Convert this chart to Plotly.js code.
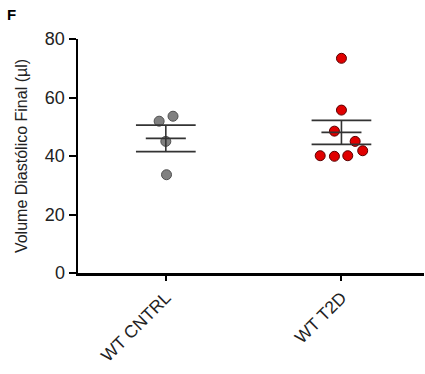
<!DOCTYPE html>
<html>
<head>
<meta charset="utf-8">
<script src="https://cdn.plot.ly/plotly-3.0.1.min.js"></script>
<style>html,body{margin:0;padding:0;background:#fff;}#chart{width:425px;height:374px;}</style>
</head>
<body>
<div id="chart"></div>
<script>
// Data
const categories = ["WT CNTRL", "WT T2D"];
const cntrlValues = [51.9, 53.6, 45.0, 33.6];
const t2dValues = [73.4, 55.7, 48.5, 45.0, 41.8, 40.1, 39.9, 40.1];
// horizontal scatter offsets of the dots within each group (category units)
const cntrlJitter = [-0.038, 0.041, 0, 0.004];
const t2dJitter = [0, 0, -0.04, 0.078, 0.121, -0.121, -0.04, 0.036];
const yTicks = [0, 20, 40, 60, 80];

function stats(v) {
  const n = v.length;
  const m = v.reduce((a, b) => a + b, 0) / n;
  const sd = Math.sqrt(v.reduce((a, b) => a + (b - m) * (b - m), 0) / (n - 1));
  return { mean: m, sem: sd / Math.sqrt(n) };
}

const groups = [
  { vals: cntrlValues, jit: cntrlJitter, color: "#808080", line: "#505050" },
  { vals: t2dValues, jit: t2dJitter, color: "#e00000", line: "#5a0000" }
];

const traces = [];
groups.forEach((g, i) => {
  traces.push({
    type: "scatter", mode: "markers",
    x: g.vals.map((_, k) => i + g.jit[k]),
    y: g.vals,
    marker: { size: 10, color: g.color, line: { color: g.line, width: 1 } },
    hoverinfo: "y", showlegend: false
  });
});

// mean and SEM lines
const lx = [], ly = [];
groups.forEach((g, i) => {
  const s = stats(g.vals);
  const mw = 0.114, sw = 0.17;
  lx.push(i - mw, i + mw, null); ly.push(s.mean, s.mean, null);
  lx.push(i - sw, i + sw, null); ly.push(s.mean + s.sem, s.mean + s.sem, null);
  lx.push(i - sw, i + sw, null); ly.push(s.mean - s.sem, s.mean - s.sem, null);
  lx.push(i, i, null); ly.push(s.mean - s.sem, s.mean + s.sem, null);
});
traces.push({
  type: "scatter", mode: "lines", x: lx, y: ly,
  line: { color: "#333333", width: 1.6 }, hoverinfo: "skip", showlegend: false
});

const font = "Liberation Sans, Arial, sans-serif";
const layout = {
  width: 425, height: 374,
  margin: { l: 78, r: 1, t: 39, b: 101 },
  paper_bgcolor: "#fff", plot_bgcolor: "#fff",
  showlegend: false,
  font: { family: font, color: "#222" },
  xaxis: {
    range: [-0.5, 1.47],
    tickvals: categories.map((_, i) => i),
    ticktext: categories,
    tickangle: -45,
    tickfont: { size: 17.5, family: font, color: "#222" },
    showline: true, linecolor: "#000", linewidth: 2.5,
    ticks: "outside", ticklen: 5, tickwidth: 2, tickcolor: "#000",
    showgrid: false, zeroline: false, fixedrange: true
  },
  yaxis: {
    range: [0, 80],
    tickvals: yTicks,
    ticktext: yTicks.map(String),
    tickfont: { size: 18, family: font, color: "#222" },
    showline: true, linecolor: "#000", linewidth: 2.5,
    ticks: "outside", ticklen: 7, tickwidth: 2, tickcolor: "#000",
    showgrid: false, zeroline: false, fixedrange: true,
    title: { text: "Volume Diastólico Final (µl)", font: { size: 16, family: font, color: "#222" }, standoff: 14 }
  },
  annotations: [{
    text: "<b>F</b>", xref: "paper", yref: "paper", x: -0.21, y: 1.15,
    xanchor: "left", yanchor: "top", showarrow: false,
    font: { size: 15, family: font, color: "#000" }
  }]
};

Plotly.newPlot("chart", traces, layout, { displayModeBar: false, staticPlot: true });
</script>
</body>
</html>
